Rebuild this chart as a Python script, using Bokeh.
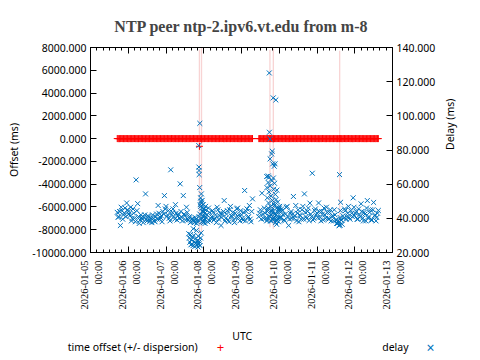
import math
import pandas as pd
from bokeh.plotting import figure
from bokeh.layouts import column
from bokeh.models import (Range1d, LinearAxis, FixedTicker, PrintfTickFormatter,
                          Label, LabelSet, ColumnDataSource, CustomLabelingPolicy)
from bokeh.embed import file_html
from bokeh.resources import INLINE

# ---------------- texts ----------------
TITLE = "NTP peer ntp-2.ipv6.vt.edu from m-8"
X_LABEL = "UTC"
Y_LABEL = "Offset (ms)"
Y2_LABEL = "Delay (ms)"
LEGEND_OFFSET = "time offset (+/- dispersion)"
LEGEND_DELAY = "delay"

# ---------------- axes ----------------
x_start, x_end = "2026-01-05 00:00", "2026-01-13 00:00"
day_ticks = ["2026-01-05", "2026-01-06", "2026-01-07", "2026-01-08", "2026-01-09",
             "2026-01-10", "2026-01-11", "2026-01-12", "2026-01-13"]
day_tick_labels = ["2026-01-05", "2026-01-06", "2026-01-07", "2026-01-08", "2026-01-09",
                   "2026-01-10", "2026-01-11", "2026-01-12", "2026-01-13"]
time_tick_labels = ["00:00", "00:00", "00:00", "00:00", "00:00",
                    "00:00", "00:00", "00:00", "00:00"]
offset_ticks = [-10000, -8000, -6000, -4000, -2000, 0, 2000, 4000, 6000, 8000]
delay_ticks = [20, 40, 60, 80, 100, 120, 140]

# ---------------- data: hourly samples on the hour ----------------
segA_start = "2026-01-05 17:00"
segA_delay = [
    43.5, 41.0, 35.8, 44.5, 42.0, 46.0, 49.0,
    44.0, 41.5, 38.5, 45.5, 40.0, 62.5, 48.6, 37.0, 42.0, 39.5, 40.5, 54.3,
    38.5, 41.0, 39.0, 37.5, 40.0, 38.0, 42.5, 47.5, 39.5, 41.5, 44.0, 53.3,
    47.0, 42.0, 40.0, 68.4, 43.5, 41.0, 48.0, 39.0, 42.5, 60.2, 40.5, 53.3,
    41.5, 46.5, 39.0, 41.0, 38.0, 40.0, 37.5, 39.5, 38.0, 41.0, 47.0, 44.0,
    44.0, 39.5, 42.0, 46.0, 38.5, 41.0, 43.5, 40.0, 37.5, 45.0, 41.5, 35.8,
    42.5, 50.4, 40.0, 44.5, 38.0, 47.0, 41.0, 39.0, 43.0, 45.5, 40.5, 38.5,
    42.0, 39.0, 56.3, 44.0, 40.5, 47.5, 38.0, 51.4,
]
segA_offset = [
    4, -3, 2, 6, -1, 0, 3, -5, 2, 1,
    -2, 4, 0, -3, 5, 2, -1, 3, -4, 1,
    0, 2, -2, 5, 3, -1, 0, 4, -3, 2,
    1, -5, 3, 0, -2, 6, 1, -1, 2, -4,
    0, 3, 5, -2, 1, -3, 2, 0, 4, -1,
    3, -2, 1, 0, -4, 2, 5, -1, 0, 3,
    -3, 2, 1, -2, 4, 0, -1, 3, -5, 2,
    1, 0, -2, 4, 3, -1, 2, 0, -3, 1,
    5, -2, 0, 3, -1, 2, 4,
]
segB_start = "2026-01-09 11:00"
segB_delay = [
    41.0, 45.0, 54.7, 40.0, 43.0, 38.5, 46.0, 41.0, 44.0, 39.5, 47.5, 42.0, 40.0,
    46.0, 41.0, 44.5, 39.0, 42.5, 47.0, 35.8, 43.0, 40.0, 52.8, 41.5, 38.5,
    45.0, 42.0, 39.5, 47.0, 54.3, 41.0, 44.0, 38.7, 42.5, 66.4, 40.0, 45.5,
    43.0, 49.0, 40.5, 44.0, 39.0, 42.0, 46.5, 40.0, 43.5, 38.5, 41.5, 45.0,
    39.0, 37.0, 35.8, 49.4, 36.5, 40.0, 44.5, 41.0, 47.0, 39.5, 43.0, 52.0,
    41.5, 44.0, 39.5, 42.0, 48.5, 40.0, 43.5, 38.5, 50.4, 41.0, 45.0, 39.0,
    49.3, 42.0, 40.5, 44.6,
]
segB_offset = [
    -2, 3, 1, -4, 0, 2, 5, -1, 3, 0,
    -3, 2, 4, -1, 1, 0, -2, 3, 2, -5,
    1, 4, 0, -2, 3, -1, 2, 0, -3, 5,
    2, -1, 0, 4, -2, 1, 3, -4, 0, 2,
    -1, 5, 1, -3, 2, 0, 4, -2, 1, 3,
    0, -1, 2, -4, 3, 1, 0, 5, -2, 2,
    -3, 1, 4, 0, -1, 3, 2, -2, 0, 1,
    4, -1, 2, 0, -3, 5, 1,
]

# ---------------- data: hourly samples on the half hour ----------------
segA2_start = "2026-01-05 17:30"
segA2_delay = [
    40.5, 44.0, 46.5, 39.5, 43.0, 41.0, 45.0,
    42.5, 46.5, 40.0, 43.0, 38.0, 44.5, 41.0, 39.0, 40.5, 37.5, 42.0, 39.5,
    41.5, 38.0, 40.0, 42.0, 38.5, 41.0, 39.5, 43.0, 40.5, 38.0, 42.5, 45.5,
    41.0, 44.5, 38.5, 42.0, 45.5, 39.5, 43.0, 41.5, 40.0, 44.0, 38.5, 42.5,
    39.0, 43.5, 40.5, 37.5, 39.5, 38.5, 40.5, 37.0, 39.0, 42.5, 49.0, 38.5,
    41.5, 45.0, 38.0, 43.5, 40.0, 44.5, 39.0, 42.0, 46.5, 39.5, 43.0, 40.5,
    44.0, 38.5, 42.5, 39.0, 45.0, 41.5, 43.5, 37.5, 40.5, 46.0, 42.0, 44.5,
    40.0, 43.5, 38.5, 45.5, 41.0, 39.5, 44.0,
]
segA2_offset = [
    1, -2, 3, 0, -1, 4, 2, -3, 0, 1,
    3, -1, 2, -4, 0, 5, 1, -2, 3, 0,
    -1, 2, 4, -3, 1, 0, -2, 3, 2, -1,
    0, 4, -2, 1, 3, -5, 2, 0, -1, 3,
    2, -3, 1, 0, 4, -1, 2, -2, 5, 0,
    -1, 3, 0, 2, -4, 1, 3, -2, 0, 4,
    1, -1, 2, 0, -3, 5, 2, -2, 1, 0,
    3, -1, 4, -2, 0, 2, 1, -3, 0, 2,
    -1, 3, 0, 4, -2, 1,
]
segB2_start = "2026-01-09 11:30"
segB2_delay = [
    43.0, 39.5, 42.5, 46.0, 40.0, 44.0, 41.5, 38.5, 45.0, 40.5, 43.0, 39.0, 44.5,
    40.0, 45.5, 42.0, 38.5, 46.5, 41.0, 39.5, 44.0, 42.5, 40.0, 47.5, 43.0,
    38.0, 41.5, 45.0, 39.5, 43.5, 40.0, 46.0, 48.9, 41.0, 39.0, 44.5, 42.0,
    40.5, 44.0, 38.5, 42.5, 46.0, 40.0, 43.5, 39.5, 45.0, 41.0, 38.5, 42.0,
    37.0, 38.5, 36.0, 39.0, 41.5, 45.5, 39.5, 43.0, 40.5, 44.5, 41.0, 46.5,
    43.0, 39.5, 45.5, 41.0, 44.0, 38.5, 42.5, 46.0, 40.0, 43.5, 39.0, 45.0,
    41.5, 38.5, 43.0,
]
segB2_offset = [
    2, -1, 0, 3, -4, 1, 2, 0, -2, 5,
    1, -3, 2, 0, 4, -1, 3, -2, 0, 1,
    -4, 2, 3, -1, 0, 5, -2, 1, 2, -3,
    0, 4, 1, -2, 3, 0, -1, 2, -5, 1,
    3, 0, -2, 4, 1, -1, 2, 0, 3, -3,
    1, 2, -1, 0, 4, -2, 3, 1, 0, -4,
    2, 5, -1, 0, 3, -2, 1, 0, -3, 2,
    4, -1, 0, 3, -2, 1,
]

# ---------------- extra (fast polling) delay samples ----------------
burst_time = [
    # event 1 (2026-01-07 evening): low cluster
    "2026-01-07 14:30", "2026-01-07 14:50", "2026-01-07 15:10", "2026-01-07 15:30",
    "2026-01-07 15:50", "2026-01-07 16:10", "2026-01-07 16:30", "2026-01-07 16:50",
    "2026-01-07 17:10", "2026-01-07 17:20", "2026-01-07 17:40", "2026-01-07 18:00",
    "2026-01-07 18:20", "2026-01-07 18:40", "2026-01-07 19:00", "2026-01-07 19:20",
    "2026-01-07 19:40", "2026-01-07 20:00", "2026-01-07 20:20", "2026-01-07 20:40",
    "2026-01-07 21:00", "2026-01-07 21:20", "2026-01-07 21:40", "2026-01-07 22:00",
    "2026-01-07 22:20",
    # event 1: spike
    "2026-01-07 20:50", "2026-01-07 20:55", "2026-01-07 21:00", "2026-01-07 21:05",
    "2026-01-07 21:30", "2026-01-07 21:25", "2026-01-07 21:45", "2026-01-07 22:00",
    "2026-01-07 22:15", "2026-01-07 22:30",
    # event 1: after
    "2026-01-07 22:40", "2026-01-07 22:50", "2026-01-07 23:00", "2026-01-07 23:10",
    "2026-01-07 23:20", "2026-01-07 23:30", "2026-01-07 23:40", "2026-01-07 23:50",
    "2026-01-08 00:10", "2026-01-08 00:20", "2026-01-08 00:40", "2026-01-08 00:50",
    "2026-01-08 01:10", "2026-01-08 01:20",
    # event 2 (2026-01-09 evening)
    "2026-01-09 16:00", "2026-01-09 16:10", "2026-01-09 16:25", "2026-01-09 16:30",
    "2026-01-09 16:40", "2026-01-09 16:55", "2026-01-09 17:00", "2026-01-09 17:10",
    "2026-01-09 17:25", "2026-01-09 17:30", "2026-01-09 17:40", "2026-01-09 17:45",
    "2026-01-09 17:50", "2026-01-09 18:05", "2026-01-09 18:10", "2026-01-09 18:15",
    "2026-01-09 18:30", "2026-01-09 18:45", "2026-01-09 18:50", "2026-01-09 19:00",
    "2026-01-09 19:10", "2026-01-09 19:20", "2026-01-09 19:35", "2026-01-09 19:40",
    "2026-01-09 19:50", "2026-01-09 20:00", "2026-01-09 20:10", "2026-01-09 20:15",
    "2026-01-09 20:25", "2026-01-09 20:40", "2026-01-09 20:50", "2026-01-09 20:55",
    "2026-01-09 21:00", "2026-01-09 21:10", "2026-01-09 21:20", "2026-01-09 21:30",
    "2026-01-09 21:40", "2026-01-09 21:50", "2026-01-09 22:00", "2026-01-09 22:15",
    "2026-01-09 22:20", "2026-01-09 22:30", "2026-01-09 22:45", "2026-01-09 23:00",
    "2026-01-09 23:15", "2026-01-09 23:30", "2026-01-09 23:45", "2026-01-10 00:15",
    "2026-01-10 00:40", "2026-01-10 01:10",
    # event 3 (2026-01-11 afternoon)
    "2026-01-11 13:40", "2026-01-11 14:10", "2026-01-11 14:20", "2026-01-11 14:30",
    "2026-01-11 14:40", "2026-01-11 14:50", "2026-01-11 15:20",
]
burst_delay = [
    31.0, 28.5, 26.0, 30.5, 24.5, 27.5, 25.0, 29.0, 24.0, 33.9, 30.0, 26.0,
    23.5, 28.0, 25.5, 32.9, 24.5, 27.0, 23.2, 29.5, 25.0, 26.5, 24.0, 28.5,
    31.5,
    82.6, 70.0, 68.0, 65.6, 95.6, 58.0, 48.0, 52.0, 50.0, 54.3,
    46.0, 40.0, 50.5, 38.0, 44.0, 41.5, 48.0, 37.5, 45.5, 39.0, 43.0, 37.0,
    47.0, 40.5,
    64.5, 58.0, 52.0, 39.0, 45.0, 61.0, 64.8, 49.0, 55.5, 64.0, 125.1, 90.4,
    41.0, 86.5, 74.8, 59.0, 47.0, 53.0, 42.0, 38.5, 77.7, 62.0, 79.3, 50.5,
    71.9, 44.0, 110.5, 63.6, 57.0, 48.5, 70.5, 39.5, 60.5, 42.5, 71.9, 54.0,
    37.5, 109.3, 51.0, 46.0, 36.5, 56.5, 40.0, 49.5, 43.5, 38.0, 45.5, 47.0,
    40.5, 44.0,
    37.5, 38.0, 65.6, 36.0, 40.5, 44.5, 39.0,
]

# ---------------- samples with large dispersion ----------------
errbar_time = ["2026-01-07 21:15", "2026-01-07 22:35", "2026-01-09 18:05",
               "2026-01-09 20:15", "2026-01-11 14:25"]
errbar_offset = [-676, -30, 10, -20, 5]
errbar_disp = [8500, 8200, 7800, 7900, 7700]

# ---------------- build sources ----------------
def hourly(start, n):
    return list(pd.date_range(start, periods=n, freq="h"))

t_A, t_B = hourly(segA_start, len(segA_delay)), hourly(segB_start, len(segB_delay))
t_A2, t_B2 = hourly(segA2_start, len(segA2_delay)), hourly(segB2_start, len(segB2_delay))
t_err = list(pd.to_datetime(errbar_time))

off_src = ColumnDataSource(dict(
    t=t_A + t_A2 + t_B + t_B2 + t_err,
    off=segA_offset + segA2_offset + segB_offset + segB2_offset + errbar_offset,
))
del_src = ColumnDataSource(dict(
    t=t_A + t_A2 + t_B + t_B2 + list(pd.to_datetime(burst_time)),
    d=segA_delay + segA2_delay + segB_delay + segB2_delay + burst_delay,
))
err_src = ColumnDataSource(dict(
    t=t_err,
    lo=[o - s for o, s in zip(errbar_offset, errbar_disp)],
    hi=[o + s for o, s in zip(errbar_offset, errbar_disp)],
))
tick_src = ColumnDataSource(dict(x=list(pd.to_datetime(day_ticks)),
                                 date=day_tick_labels, time=time_tick_labels))

def to_ms(v):
    return float((pd.Timestamp(v) - pd.Timestamp("1970-01-01")) / pd.Timedelta("1ms"))

major_x = [to_ms(v) for v in day_ticks]
minor_x = [to_ms(v) for v in pd.date_range(x_start, x_end, freq="4h")]

FONT = "Noto Sans"
FS = "10.5px"
BLUE = "#0072bd"

# layout (pixels)
B_LEFT, B_RIGHT, B_TOP, B_BOTTOM = 90, 80, 47, 8
FRAME_W, FRAME_H = 302, 205
W = B_LEFT + FRAME_W + B_RIGHT
H_KEY = 96

p = figure(x_axis_type="datetime", output_backend="svg", toolbar_location=None,
           frame_width=FRAME_W, frame_height=FRAME_H,
           min_border_left=B_LEFT, min_border_right=B_RIGHT,
           min_border_top=B_TOP, min_border_bottom=B_BOTTOM,
           x_range=Range1d(to_ms(x_start), to_ms(x_end)),
           y_range=Range1d(offset_ticks[0], offset_ticks[-1]))
p.extra_y_ranges = {"delay": Range1d(delay_ticks[0], delay_ticks[-1])}
p.grid.visible = False
p.outline_line_color = "black"
p.outline_line_width = 1
p.background_fill_color = "white"
p.border_fill_color = "white"

p.title.text = TITLE
p.title.align = "center"
p.title.text_font = "Liberation Serif"
p.title.text_font_style = "bold"
p.title.text_font_size = "16px"
p.title.standoff = 16

no_labels = CustomLabelingPolicy(code="for (const i of indices) { indices.unset(i) } return indices")

# bottom axis (its labels are drawn as two-line rotated text in the strip below)
xa = p.xaxis[0]
xa.ticker = FixedTicker(ticks=major_x, minor_ticks=minor_x)
xa.major_label_policy = no_labels

# top mirror axis
top = LinearAxis(ticker=FixedTicker(ticks=major_x, minor_ticks=minor_x),
                 major_label_policy=no_labels)
p.add_layout(top, "above")

# left axis
ya = p.yaxis[0]
ya.ticker = FixedTicker(ticks=offset_ticks)
ya.formatter = PrintfTickFormatter(format="%.3f")
ya.axis_label = Y_LABEL
ya.axis_label_standoff = 8

# right axis
ra = LinearAxis(y_range_name="delay", ticker=FixedTicker(ticks=delay_ticks),
                formatter=PrintfTickFormatter(format="%.3f"), axis_label=Y2_LABEL,
                axis_label_standoff=12)
if hasattr(ra, "axis_label_orientation"):
    ra.axis_label_orientation = math.pi / 2
p.add_layout(ra, "right")

for ax in [xa, top, ya, ra]:
    ax.major_tick_in = 6
    ax.major_tick_out = 0
    ax.minor_tick_in = 3
    ax.minor_tick_out = 0
    ax.axis_line_color = "black"
    ax.major_tick_line_color = "black"
    ax.minor_tick_line_color = "black"
    ax.major_label_text_font = FONT
    ax.major_label_text_font_size = FS
    ax.major_label_text_color = "black"
    ax.major_label_standoff = 4
    ax.axis_label_text_font = FONT
    ax.axis_label_text_font_size = FS
    ax.axis_label_text_font_style = "normal"
    ax.axis_label_text_color = "black"
for ax in [xa, top]:
    ax.major_label_text_font_size = "1px"
    ax.major_label_standoff = 0
ya.minor_tick_line_color = None
ra.minor_tick_line_color = None

# glyphs
p.segment(x0="t", y0="lo", x1="t", y1="hi", source=err_src,
          line_color="#f0a0a0", line_alpha=0.45, line_width=1.3)
p.scatter(x="t", y="off", source=off_src, marker="cross", size=7,
          line_color="red", line_width=1)
p.scatter(x="t", y="d", source=del_src, y_range_name="delay", marker="x", size=7,
          line_color=BLUE, line_width=1)

# ---------------- strip below: tick labels, axis title, key ----------------
ms_per_px = (to_ms(x_end) - to_ms(x_start)) / FRAME_W
q = figure(output_backend="svg", toolbar_location=None, width=W, height=H_KEY,
           min_border=0, x_axis_location=None, y_axis_location=None,
           x_range=Range1d(to_ms(x_start) - B_LEFT * ms_per_px,
                           to_ms(x_end) + B_RIGHT * ms_per_px),
           y_range=Range1d(0, H_KEY))
q.grid.visible = False
q.outline_line_color = None
q.background_fill_color = "white"
q.border_fill_color = "white"
for fig in (p, q):
    if hasattr(fig, "frame_align"):
        fig.frame_align = False

q.add_layout(LabelSet(x="x", y=H_KEY, x_units="data", y_units="screen", text="date",
                      source=tick_src, angle=math.pi / 2, x_offset=-6,
                      text_align="right", text_baseline="middle",
                      text_font=FONT, text_font_size=FS, text_color="black"))
q.add_layout(LabelSet(x="x", y=H_KEY, x_units="data", y_units="screen", text="time",
                      source=tick_src, angle=math.pi / 2, x_offset=8,
                      text_align="right", text_baseline="middle",
                      text_font=FONT, text_font_size=FS, text_color="black"))

def lab(x, y, text, **kw):
    opts = dict(x_units="screen", y_units="screen", text_font=FONT, text_font_size=FS,
                text_baseline="middle", text_align="left", text_color="black")
    opts.update(kw)
    q.add_layout(Label(x=x, y=y, text=text, **opts))

lab(241.7, 21, X_LABEL, text_align="center")
lab(67.3, 9.5, LEGEND_OFFSET)
lab(220, 9.5, "+", text_align="center", text_color="red", text_font_size="13px")
lab(381.7, 9.5, LEGEND_DELAY)
lab(430, 9.5, "\u00d7", text_align="center", text_color=BLUE, text_font_size="14px")

open("out.html", "w").write(file_html(column(p, q, spacing=0), INLINE))
